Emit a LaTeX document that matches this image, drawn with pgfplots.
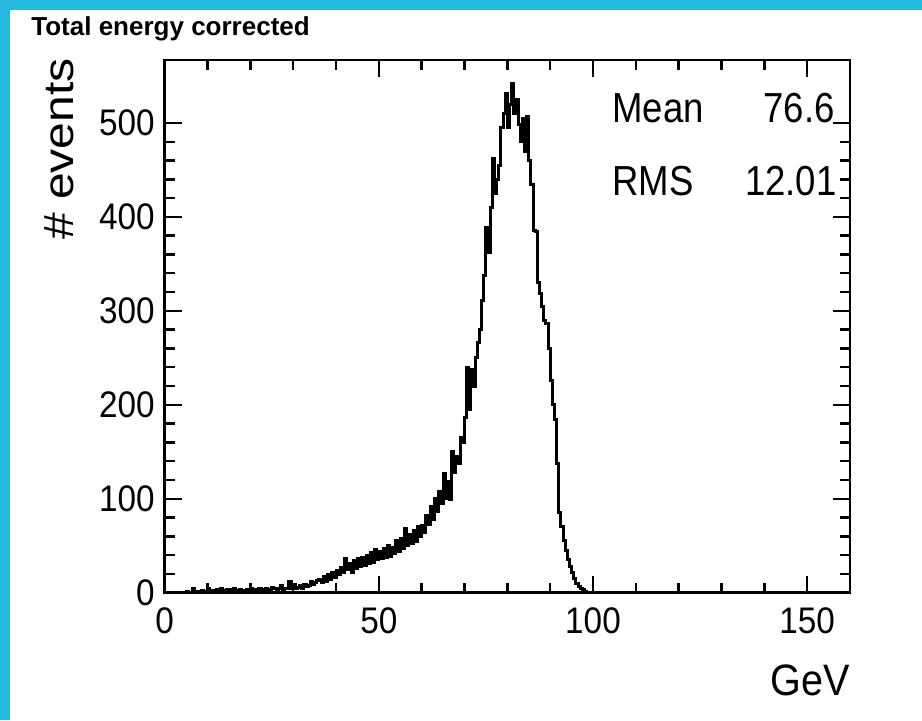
\documentclass[border=0pt]{standalone}
\usepackage{fontspec}
\setmainfont{Liberation Sans}
\usepackage{graphicx}
\usepackage{pgfplots}
\usepackage{pgfplotstable}
\pgfplotsset{compat=1.18}
\definecolor{frameblue}{RGB}{38,185,224}

\pgfplotstableread{
x y
0.0 0
0.5 0
1.0 0
1.5 0
2.0 0
2.5 0
3.0 0
3.5 0
4.0 0
4.5 0
5.0 1
5.5 0
6.0 0
6.5 4
7.0 1
7.5 0
8.0 1
8.5 2
9.0 0
9.5 1
10.0 5
10.5 1
11.0 2
11.5 0
12.0 3
12.5 1
13.0 4
13.5 2
14.0 1
14.5 3
15.0 3
15.5 2
16.0 4
16.5 1
17.0 2
17.5 3
18.0 1
18.5 2
19.0 3
19.5 2
20.0 5
20.5 2
21.0 3
21.5 1
22.0 4
22.5 3
23.0 2
23.5 5
24.0 3
24.5 2
25.0 6
25.5 4
26.0 3
26.5 4
27.0 8
27.5 3
28.0 5
28.5 4
29.0 12
29.5 4
30.0 9
30.5 5
31.0 6
31.5 8
32.0 5
32.5 9
33.0 7
33.5 8
34.0 12
34.5 9
35.0 11
35.5 13
36.0 14
36.5 11
37.0 17
37.5 12
38.0 19
38.5 14
39.0 22
39.5 16
40.0 24
40.5 19
41.0 27
41.5 21
42.0 36
42.5 25
43.0 31
43.5 22
44.0 34
44.5 26
45.0 36
45.5 28
46.0 38
46.5 29
47.0 40
47.5 31
48.0 43
48.5 32
49.0 46
49.5 35
50.0 44
50.5 36
51.0 47
51.5 38
52.0 50
52.5 39
53.0 48
53.5 42
54.0 56
54.5 44
55.0 58
55.5 47
56.0 68
56.5 50
57.0 62
57.5 52
58.0 66
58.5 55
59.0 70
59.5 60
60.0 72
60.5 64
61.0 82
61.5 73
62.0 92
62.5 78
63.0 100
63.5 86
64.0 108
64.5 95
65.0 127
65.5 100
66.0 118
66.5 99
67.0 150
67.5 128
68.0 145
68.5 138
69.0 165
69.5 160
70.0 187
70.5 240
71.0 195
71.5 238
72.0 220
72.5 250
73.0 266
73.5 280
74.0 311
74.5 338
75.0 389
75.5 362
76.0 410
76.5 462
77.0 425
77.5 440
78.0 455
78.5 495
79.0 510
79.5 531
80.0 495
80.5 520
81.0 542
81.5 510
82.0 525
82.5 498
83.0 480
83.5 505
84.0 470
84.5 507
85.0 460
85.5 434
86.0 386
86.5 384
87.0 330
87.5 319
88.0 305
88.5 290
89.0 287
89.5 260
90.0 226
90.5 200
91.0 184
91.5 138
92.0 85
92.5 70
93.0 56
93.5 45
94.0 35
94.5 28
95.0 21
95.5 15
96.0 10
96.5 7
97.0 4
97.5 3
98.0 1
98.5 0
160.0 0
}\histdata

\begin{document}
\begin{tikzpicture}
\useasboundingbox (0,0) rectangle (461pt,360pt);
\fill[white] (0,0) rectangle (461pt,360pt);
\fill[frameblue] (0,355pt) rectangle (461pt,360pt);
\fill[frameblue] (0,0) rectangle (5pt,360pt);

\begin{axis}[
  at={(82.35pt,63.65pt)}, anchor=south west,
  scale only axis, width=342.65pt, height=266.35pt,
  xmin=0, xmax=160, ymin=0, ymax=567,
  axis line style={line width=1.4pt},
  xtick={0,50,100,150},
  xticklabels={\scalebox{0.9}[1]{0},\scalebox{0.9}[1]{50},\scalebox{0.9}[1]{100},\scalebox{0.9}[1]{150}},
  ytick={0,100,200,300,400,500},
  yticklabels={\raisebox{-3pt}{\scalebox{0.9}[1]{0}},\scalebox{0.9}[1]{100},\scalebox{0.9}[1]{200},\scalebox{0.9}[1]{300},\scalebox{0.9}[1]{400},\scalebox{0.9}[1]{500}},
  minor x tick num=4, minor y tick num=4,
  tick align=inside, tick pos=both,
  major tick length=8.5pt, minor tick length=5pt,
  tick style={black, line width=1.2pt},
  xticklabel style={font=\fontsize{18.5}{18.5}\selectfont, yshift=-4pt},
  yticklabel style={font=\fontsize{18.5}{18.5}\selectfont, xshift=-1.5pt},
]
\addplot[const plot, black, line width=1.5pt] table[x=x,y=y] {\histdata};
\end{axis}

\node[anchor=base west, inner sep=0, font=\fontsize{13}{13}\selectfont\bfseries] at (15.5pt,342.5pt) {Total energy corrected};
\node[anchor=base east, inner sep=0, rotate=90, font=\fontsize{24}{24}\selectfont] at (36.5pt,331pt) {\scalebox{1}[0.88]{\# events}};
\node[anchor=base east, inner sep=0, font=\fontsize{22}{22}\selectfont] at (425pt,12.5pt) {\scalebox{0.9}[1]{GeV}};
\node[anchor=base west, inner sep=0, font=\fontsize{21}{21}\selectfont] at (306pt,299pt) {\scalebox{0.87}[1]{Mean}};
\node[anchor=base east, inner sep=0, font=\fontsize{21}{21}\selectfont] at (417.5pt,299pt) {\scalebox{0.87}[1]{76.6}};
\node[anchor=base west, inner sep=0, font=\fontsize{21}{21}\selectfont] at (306pt,262.5pt) {\scalebox{0.87}[1]{RMS}};
\node[anchor=base east, inner sep=0, font=\fontsize{21}{21}\selectfont] at (418.5pt,262.5pt) {\scalebox{0.87}[1]{12.01}};
\end{tikzpicture}
\end{document}
